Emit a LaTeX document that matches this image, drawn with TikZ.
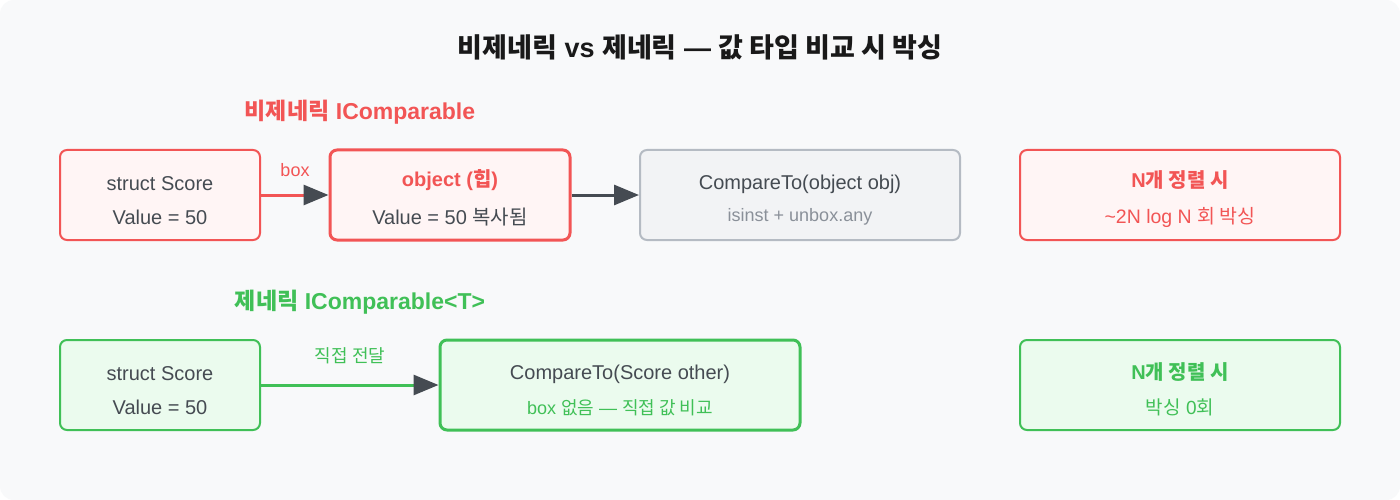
\documentclass[tikz,border=0pt]{standalone}
\usepackage{fontspec}
\setmainfont{Liberation Sans}
\newfontfamily\krfont{Noto Sans CJK KR}
\newcommand{\kr}[1]{{\krfont #1}}
\usetikzlibrary{arrows.meta}
\definecolor{bgc}{HTML}{F8F9FA}
\definecolor{redc}{HTML}{F25555}
\definecolor{redfill}{HTML}{FFF5F5}
\definecolor{grayb}{HTML}{B5BBC3}
\definecolor{grayfill}{HTML}{F2F3F5}
\definecolor{greenc}{HTML}{40C057}
\definecolor{greenfill}{HTML}{EBFBEE}
\definecolor{darkt}{HTML}{454B52}
\definecolor{grayt}{HTML}{8A9099}
\tikzset{
  card/.style={rounded corners=7pt, line width=2pt, minimum height=90pt, inner sep=0pt},
  redcard/.style={card, draw=redc, fill=redfill},
  graycard/.style={card, draw=grayb, fill=grayfill},
  greencard/.style={card, draw=greenc, fill=greenfill},
  txt/.style={font=\fontsize{20}{22}\selectfont, text=darkt},
  boldtxt/.style={font=\fontsize{20}{22}\selectfont\bfseries},
  small/.style={font=\fontsize{18}{20}\selectfont},
  conn/.style={line width=3pt, -{Triangle[length=25pt,width=20pt,fill=darkt,color=darkt]}},
}
\begin{document}
\begin{tikzpicture}[x=1pt,y=-1pt]
\useasboundingbox (0,0) rectangle (1400,500);
\fill[white] (0,0) rectangle (1400,500);
\fill[bgc, rounded corners=14pt] (0,0) rectangle (1400,500);
\node[font=\fontsize{27}{29}\selectfont\bfseries, text=black!90] (title) at (700,47) {\kr{비제네릭} vs \kr{제네릭} — \kr{값 타입 비교 시 박싱}};
\node[font=\fontsize{23}{25}\selectfont\bfseries, text=redc] (h1) at (360,112) {\kr{비제네릭} IComparable};
\node[font=\fontsize{23}{25}\selectfont\bfseries, text=greenc] (h2) at (360,302) {\kr{제네릭} IComparable<T>};

% row 1
\node[redcard, minimum width=200pt] (b1) at (160,195) {};
\node[txt] (b1a) at (160,184) {struct Score};
\node[txt] (b1b) at (160,217) {Value = 50};
\node[redcard, line width=3pt, minimum width=240pt] (b2) at (450,195) {};
\node[boldtxt, text=redc] (b2a) at (450,180) {object (\kr{힙})};
\node[txt] (b2b) at (450,217) {Value = 50 \kr{복사됨}};
\node[graycard, minimum width=320pt] (b3) at (800,195) {};
\node[txt] (b3a) at (800,184) {CompareTo(object obj)};
\node[small, text=grayt] (b3b) at (800,217) {isinst + unbox.any};
\node[redcard, minimum width=320pt] (b4) at (1180,195) {};
\node[boldtxt, text=redc] (b4a) at (1180,180) {N\kr{개 정렬 시}};
\node[text=redc, font=\fontsize{19.5}{21}\selectfont] (b4b) at (1180,217) {\textasciitilde 2N log N \kr{회 박싱}};

\draw[conn, draw=redc] (b1.east) -- (b2.west);
\node[small, text=redc] (lbox) at (295,170) {box};
\draw[conn, draw=darkt] (b2.east) -- (b3.west);

% row 2
\node[greencard, minimum width=200pt] (g1) at (160,385) {};
\node[txt] (g1a) at (160,374) {struct Score};
\node[txt] (g1b) at (160,407) {Value = 50};
\node[greencard, line width=3pt, minimum width=360pt] (g2) at (620,385) {};
\node[txt] (g2a) at (620,374) {CompareTo(Score other)};
\node[small, text=greenc] (g2b) at (620,408) {box \kr{없음} — \kr{직접 값 비교}};
\node[greencard, minimum width=320pt] (g3) at (1180,385) {};
\node[boldtxt, text=greenc] (g3a) at (1180,372) {N\kr{개 정렬 시}};
\node[text=greenc, font=\fontsize{19}{21}\selectfont] (g3b) at (1180,407) {\kr{박싱} 0\kr{회}};

\draw[conn, draw=greenc] (g1.east) -- (g2.west);
\node[small, text=greenc] (ldirect) at (350,356) {\kr{직접 전달}};
\end{tikzpicture}
\end{document}
